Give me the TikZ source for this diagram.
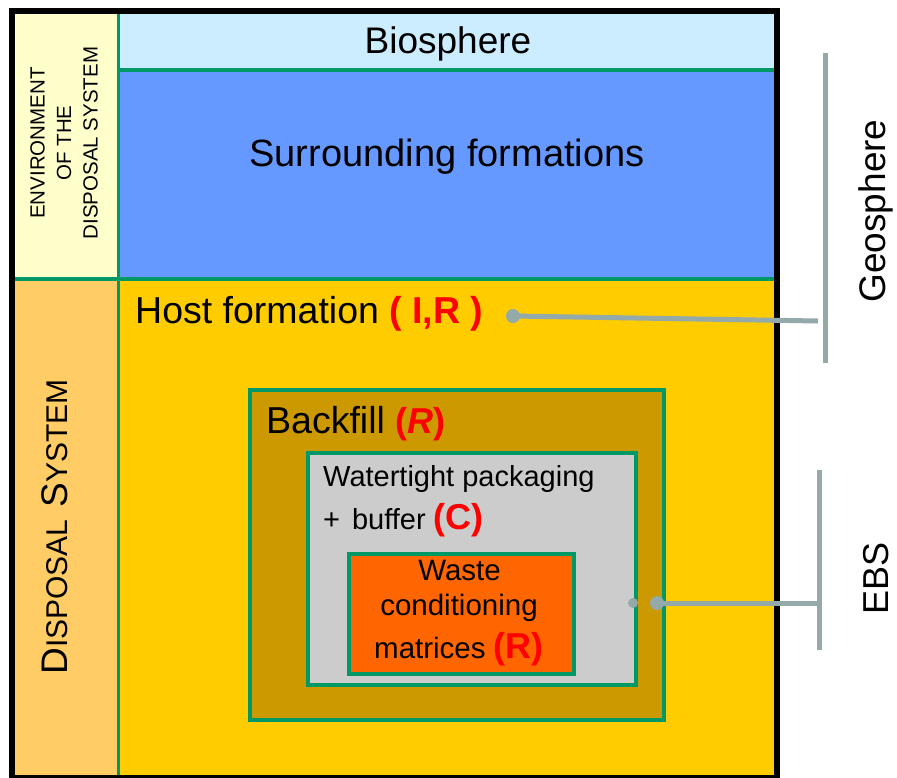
\documentclass[tikz,border=0pt]{standalone}
\usepackage{fontspec}
\setmainfont{Liberation Sans}
\definecolor{envc}{HTML}{FFFFCC}
\definecolor{dispc}{HTML}{FFCC66}
\definecolor{bioc}{HTML}{CCECFF}
\definecolor{surrc}{HTML}{6699FF}
\definecolor{hostc}{HTML}{FFCC00}
\definecolor{backc}{HTML}{CC9900}
\definecolor{packc}{HTML}{CCCCCC}
\definecolor{wastec}{HTML}{FF6600}
\definecolor{gline}{HTML}{009966}
\definecolor{brk}{HTML}{93A9AA}
\definecolor{redt}{HTML}{FF0000}
\newcommand{\fsz}[1]{\fontsize{#1}{#1}\selectfont}
\begin{document}
\begin{tikzpicture}[x=1pt,y=-1pt,
  box/.style={draw=gline, line width=4pt, inner sep=0pt, anchor=north west},
  txt/.style={inner sep=0pt, anchor=base},
  txtw/.style={inner sep=0pt, anchor=base west},
  sep/.style={draw=gline, line width=4pt},
  brkline/.style={draw=brk, line width=5pt},
  dotbig/.style={circle, fill=brk, inner sep=0pt, minimum size=14pt},
  dotsmall/.style={circle, fill=brk, inner sep=0pt, minimum size=10pt}]
\useasboundingbox (0,0) rectangle (897,777);
\fill[white] (0,0) rectangle (897,777);
% background regions
\fill[envc] (11,11) rectangle (118,279);
\fill[dispc] (11,279) rectangle (118,777);
\fill[bioc] (118,11) rectangle (777,70);
\fill[surrc] (118,70) rectangle (777,279);
\fill[hostc] (118,279) rectangle (777,777);
% separators
\coordinate (vtop) at (118.5,11);
\coordinate (vbot) at (118.5,777);
\coordinate (b1l) at (118,70);
\coordinate (b1r) at (777,70);
\coordinate (b2l) at (11,279);
\coordinate (b2r) at (777,279);
\draw[sep, line width=3.5pt] (vtop) -- (vbot);
\draw[sep] (b1l) -- (b1r);
\draw[sep] (b2l) -- (b2r);
% nested boxes
\node[box, fill=backc, minimum width=414pt, minimum height=330pt] (backfill) at (248,388) {};
\node[box, fill=packc, minimum width=328pt, minimum height=232pt] (pack) at (306,451) {};
\node[box, fill=wastec, minimum width=225pt, minimum height=120pt] (waste) at (347,552) {};
% outer frame
\draw[line width=6pt] (11.5,11) rectangle (776.5,778);
% texts
\node[txt, font=\fsz{37}] (biot) at (448,53) {Biosphere};
\node[txt, font=\fsz{38}] (surrt) at (447,166) {Surrounding formations};
\node[txtw, font=\fsz{37.5}] (hostt) at (135,323) {Host formation {\color{redt}\bfseries ( I,R )}};
\node[txtw, font=\fsz{37.5}] (backt) at (266,433) {Backfill {\color{redt}\fsz{36}\bfseries(\itshape R\upshape)}};
\node[txtw, font=\fsz{29}] (packt1) at (323,486) {Watertight packaging};
\node[txtw, font=\fsz{29}] (packt2) at (323,529) {+\hspace{12pt}buffer\hspace{8pt}{\color{redt}\fsz{36}\bfseries(C)}};
\node[txt, font=\fsz{29.5}] (wt1) at (459.5,580) {Waste};
\node[txt, font=\fsz{29.5}] (wt2) at (459,615) {conditioning};
\node[txt, font=\fsz{29.5}] (wt3) at (459,658) {matrices {\color{redt}\fsz{36}\bfseries(R)}};
\node[inner sep=0pt, rotate=90, align=center, font=\fsz{20.5}, text depth=0pt] (envt) at (64,143)
  {\fsz{20.5}ENVIRONMENT\\[6pt]\fsz{20.5}OF THE\\[6pt]\fsz{20.5}DISPOSAL SYSTEM};
\node[inner sep=0pt, rotate=90] (dispt) at (55,527)
  {\fsz{37}D\fsz{30}ISPOSAL\hspace{12pt}\fsz{37}S\fsz{30}YSTEM};
\node[inner sep=0pt, rotate=90, font=\fsz{37}] (geot) at (876,211) {Geosphere};
\node[inner sep=0pt, rotate=90, font=\fsz{36}] (ebst) at (876,578) {EBS};
% connectors
\coordinate (gtop) at (825,53);
\coordinate (gbot) at (825,363);
\coordinate (gend) at (818,321);
\coordinate (etop) at (819,470);
\coordinate (ebot) at (819,650);
\coordinate (eend) at (819,603);
\draw[brkline] (gtop) -- (gbot);
\draw[brkline] (etop) -- (ebot);
\node[dotbig] (hdot) at (513,316) {};
\draw[brkline] (hdot.center) -- (gend);
\node[dotbig] (edot) at (657,603) {};
\node[dotsmall] (pdot) at (633,603) {};
\draw[brkline] (edot.center) -- (eend);
\end{tikzpicture}
\end{document}
